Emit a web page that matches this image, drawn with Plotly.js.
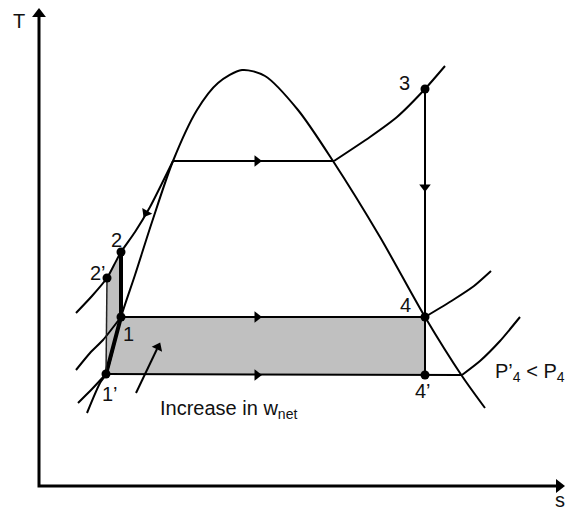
<!DOCTYPE html>
<html><head><meta charset="utf-8">
<script src="https://cdn.plot.ly/plotly-3.0.1.min.js"></script>
<style>html,body{margin:0;padding:0;background:#fff}#chart{width:566px;height:511px}</style>
</head><body><div id="chart"></div>
<script>
// Schematic T-s diagram, coordinates in diagram units (s to the right, T upward)
const domeS = [87, 100, 106, 121, 135, 152, 173, 197, 218, 242, 265, 298, 333, 380, 425, 462, 485];
const domeT = [98, 128, 137, 194, 236, 289, 350, 401, 428, 441, 435, 401, 350, 274, 194, 135, 103];

const highS = [76, 92, 107, 114, 121, 135, 150, 173, 334, 370, 397, 425, 445];
const highT = [198, 215, 233, 246, 259, 279, 304, 350, 350, 374, 394, 422, 445];

const midS = [76, 90, 103, 121, 425, 453, 474, 491];
const midT = [141, 158, 171, 194, 194, 211, 225, 240];

const lowS = [78, 92, 106, 462, 480, 500, 520];
const lowT = [108, 122, 137, 136, 150, 170, 194];

const ptNames = ["1’", "1", "2", "2’", "3", "4", "4’"];
const ptS = [106, 121, 121, 107, 425, 425, 425];
const ptT = [137, 194, 259, 233, 422, 194, 136];
const lblS = [110, 128, 116, 98, 404, 405, 423];
const lblT = [117, 177, 271, 238, 428, 206, 120];

const shadeS = [106, 107, 114, 121, 121, 425, 425, 106];
const shadeT = [137, 233, 246, 259, 194, 194, 136, 137];

const k = 'black';
const traces = [];
traces.push({x: shadeS, y: shadeT, mode: 'lines', fill: 'toself', fillcolor: '#c0c0c0', line: {width: 0}, hoverinfo: 'skip'});
traces.push({x: domeS, y: domeT, mode: 'lines', line: {color: k, width: 2, shape: 'spline', smoothing: 0.8}});
traces.push({x: highS.slice(0, 8), y: highT.slice(0, 8), mode: 'lines', line: {color: k, width: 2, shape: 'spline', smoothing: 0.6}});
traces.push({x: highS.slice(7, 9), y: highT.slice(7, 9), mode: 'lines', line: {color: k, width: 2}});
traces.push({x: highS.slice(8), y: highT.slice(8), mode: 'lines', line: {color: k, width: 2, shape: 'spline', smoothing: 0.6}});
traces.push({x: midS.slice(0, 4), y: midT.slice(0, 4), mode: 'lines', line: {color: k, width: 2, shape: 'spline', smoothing: 0.6}});
traces.push({x: midS.slice(3, 5), y: midT.slice(3, 5), mode: 'lines', line: {color: k, width: 2}});
traces.push({x: midS.slice(4), y: midT.slice(4), mode: 'lines', line: {color: k, width: 2, shape: 'spline', smoothing: 0.6}});
traces.push({x: lowS.slice(0, 3), y: lowT.slice(0, 3), mode: 'lines', line: {color: k, width: 2, shape: 'spline', smoothing: 0.6}});
traces.push({x: lowS.slice(2, 4), y: lowT.slice(2, 4), mode: 'lines', line: {color: k, width: 2}});
traces.push({x: lowS.slice(3), y: lowT.slice(3), mode: 'lines', line: {color: k, width: 2, shape: 'spline', smoothing: 0.6}});
// process lines
traces.push({x: [ptS[4], ptS[5]], y: [ptT[4], ptT[5]], mode: 'lines', line: {color: k, width: 2}});
traces.push({x: [ptS[5], ptS[6]], y: [ptT[5], ptT[6]], mode: 'lines', line: {color: k, width: 2}});
traces.push({x: [ptS[2], ptS[1], ptS[0]], y: [ptT[2], ptT[1], ptT[0]], mode: 'lines', line: {color: k, width: 4}});
traces.push({x: [ptS[3], ptS[0]], y: [ptT[3], ptT[0]], mode: 'lines', line: {color: '#222', width: 1.5}});
// axes
traces.push({x: [39, 39, 560], y: [497, 25, 25], mode: 'lines', line: {color: k, width: 3}});
traces.push({x: [39], y: [497], mode: 'markers', marker: {symbol: 'triangle-up', size: 12, color: k}});
traces.push({x: [559], y: [25], mode: 'markers', marker: {symbol: 'triangle-right', size: 12, color: k}});
// direction arrows
traces.push({x: [257, 257, 257], y: [350, 194, 136], mode: 'markers', marker: {symbol: 'triangle-right', size: 10, color: k}});
traces.push({x: [425], y: [324], mode: 'markers', marker: {symbol: 'triangle-down', size: 10, color: k}});
traces.push({x: [146], y: [298], mode: 'markers', marker: {symbol: 'triangle-down', size: 10, color: k, angle: 30}});
// pointer for increase in w_net
traces.push({x: [136, 157], y: [118, 162], mode: 'lines', line: {color: k, width: 2}});
traces.push({x: [158], y: [164], mode: 'markers', marker: {symbol: 'triangle-up', size: 10, color: k, angle: 26}});
// state points
traces.push({x: ptS, y: ptT, mode: 'markers', marker: {color: k, size: 9}});

const fnt = {family: 'Liberation Sans, Arial, sans-serif', size: 20, color: '#111'};
const ann = ptNames.map((n, i) => ({x: lblS[i], y: lblT[i], text: n, showarrow: false, font: fnt}));
ann.push({x: 19, y: 490, text: 'T', showarrow: false, font: fnt});
ann.push({x: 560, y: 11, text: 's', showarrow: false, font: fnt});
ann.push({x: 158, y: 102, text: 'Increase in w<sub>net</sub>', xanchor: 'left', showarrow: false, font: fnt});
ann.push({x: 493, y: 139, text: 'P’<sub>4</sub> &lt; P<sub>4</sub>', xanchor: 'left', showarrow: false, font: fnt});

const layout = {
  width: 566, height: 511,
  margin: {l: 0, r: 0, t: 0, b: 0},
  paper_bgcolor: '#fff', plot_bgcolor: '#fff',
  showlegend: false,
  xaxis: {range: [0, 566], visible: false, fixedrange: true},
  yaxis: {range: [0, 511], visible: false, fixedrange: true},
  annotations: ann
};
Plotly.newPlot('chart', traces, layout, {displayModeBar: false, staticPlot: true});
</script>
</body></html>
